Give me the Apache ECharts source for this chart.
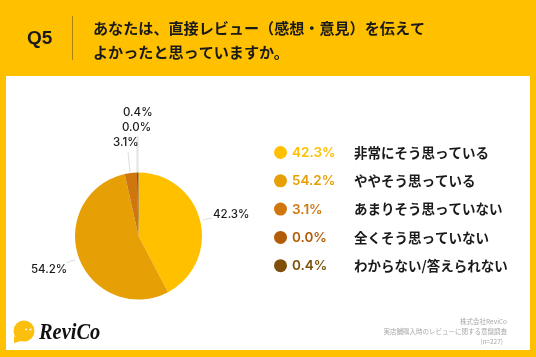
<!DOCTYPE html>
<html>
<head>
<meta charset="utf-8">
<style>
  html, body { margin: 0; padding: 0; background: #ffc000; }
  #chart { width: 536px; height: 357px; }
</style>
<script src="https://cdn.jsdelivr.net/npm/echarts@6/dist/echarts.min.js"></script>
</head>
<body>
<div id="chart"></div>
<script>
const categories = ["非常にそう思っている", "ややそう思っている", "あまりそう思っていない", "全くそう思っていない", "わからない/答えられない"];
const values = [42.3, 54.2, 3.1, 0.0, 0.4];
const colors = ["#ffc000", "#e69f05", "#d0760e", "#b35c08", "#7f4f0a"];
const titleLines = ["あなたは、直接レビュー（感想・意見）を伝えて", "よかったと思っていますか。"];
const noteLines = ["株式会社ReviCo", "実店舗購入時のレビューに関する意識調査", "(n=227)"];

const jpFont = '"Noto Sans CJK JP", "Noto Sans", sans-serif';
const latinFont = '"Inter", "Liberation Sans", sans-serif';

// 外側ラベルの位置と引き出し線
const labelSpots = [
  { x: 213, y: 215, line: [[203, 220], [207, 219], [212, 218]] },
  { x: 31, y: 270, line: [[75, 260], [71, 261], [67, 263]] },
  { x: 113, y: 143, line: [[130, 172], [129, 162], [128, 152]] },
  { x: 122, y: 128, line: [[137, 172], [137, 155], [137, 136]] },
  { x: 123, y: 113, line: [[138, 172], [138, 155], [138, 136]] },
];

const legendRich = { n: { fontFamily: jpFont, fontSize: 13.5, fontWeight: "bold", color: "#1a1a1a", lineHeight: 14 } };
colors.forEach((c, i) => {
  legendRich["p" + i] = { fontFamily: latinFont, fontSize: 13.5, fontWeight: 600, color: c, width: 62, lineHeight: 14, padding: [1, 0, 0, 0] };
});

const myChart = echarts.init(document.getElementById("chart"));

const option = {
  animation: false,
  backgroundColor: "#ffc000",
  color: colors,
  legend: {
    orient: "vertical",
    left: 269,
    top: 140,
    itemWidth: 13,
    itemHeight: 13,
    itemGap: 13.3,
    icon: "circle",
    selectedMode: false,
    data: categories,
    formatter: (name) => {
      const i = categories.indexOf(name);
      return "{p" + i + "|" + values[i].toFixed(1) + "%}{n|" + name + "}";
    },
    textStyle: { rich: legendRich },
  },
  graphic: [
    { type: "rect", z: -1, shape: { x: 6, y: 76, width: 524, height: 274 }, style: { fill: "#ffffff" } },
    { type: "rect", shape: { x: 72, y: 16, width: 1, height: 44 }, style: { fill: "#a98314" } },
    { type: "text", x: 27, y: 39, style: { text: "Q5", fill: "#1a1a1a", font: 'bold 19px "Liberation Sans", sans-serif', verticalAlign: "middle" } },
    { type: "text", x: 93, y: 28, style: { text: titleLines[0], fill: "#1a1a1a", font: "bold 15.1px " + jpFont, verticalAlign: "middle" } },
    { type: "text", x: 93, y: 52, style: { text: titleLines[1], fill: "#1a1a1a", font: "bold 15.1px " + jpFont, verticalAlign: "middle" } },
    { type: "text", x: 507, y: 322, style: { text: noteLines[0], fill: "#a8a8a8", font: "6.5px " + jpFont, align: "right", verticalAlign: "middle" } },
    { type: "text", x: 507, y: 332, style: { text: noteLines[1], fill: "#a8a8a8", font: "6.5px " + jpFont, align: "right", verticalAlign: "middle" } },
    { type: "text", x: 503, y: 342, style: { text: noteLines[2], fill: "#a8a8a8", font: "6.5px " + jpFont, align: "right", verticalAlign: "middle" } },
    // ロゴ
    { type: "circle", shape: { cx: 24, cy: 331, r: 10.5 }, style: { fill: "#fdbf0d" } },
    { type: "polygon", shape: { points: [[14, 336], [14, 343], [21, 341]] }, style: { fill: "#fdbf0d" } },
    { type: "circle", shape: { cx: 26, cy: 329.5, r: 1 }, style: { fill: "#ffffff" } },
    { type: "circle", shape: { cx: 30.5, cy: 329.5, r: 1 }, style: { fill: "#ffffff" } },
    { type: "text", x: 39, y: 333, scaleX: 0.85, originX: 0, style: { text: "ReviCo", fill: "#111111", font: 'italic bold 24px "Liberation Serif", serif', verticalAlign: "middle" } },
  ],
  series: [
    {
      type: "pie",
      center: [138.5, 236],
      radius: [0, 63.5],
      startAngle: 90,
      clockwise: true,
      silent: true,
      avoidLabelOverlap: false,
      stillShowZeroSum: true,
      data: categories.map((name, i) => ({ name: name, value: values[i] })),
      label: {
        show: true,
        position: "outside",
        formatter: (params) => values[params.dataIndex].toFixed(1) + "%",
        fontFamily: latinFont,
        fontSize: 11.5,
        fontWeight: 500,
        color: "#1a1a1a",
      },
      labelLine: { show: true, length: 6, length2: 4, lineStyle: { color: "#dddddd", width: 1 } },
      labelLayout: (params) => {
        const spot = labelSpots[params.dataIndex];
        return { x: spot.x, y: spot.y, align: "left", verticalAlign: "middle", labelLinePoints: spot.line };
      },
    },
  ],
};

option && myChart.setOption(option);
</script>
</body>
</html>
